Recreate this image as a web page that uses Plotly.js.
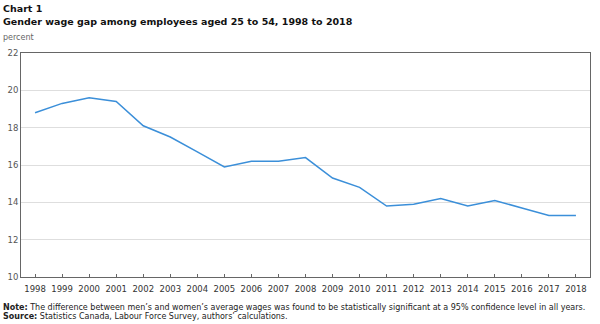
<!DOCTYPE html>
<html><head><meta charset="utf-8">
<script src="https://cdn.plot.ly/plotly-3.0.1.min.js"></script>
<style>html,body{margin:0;padding:0;background:#fff}#c{width:600px;height:324px}</style>
</head><body><div id="c"></div>
<script>
var years = ['1998','1999','2000','2001','2002','2003','2004','2005','2006','2007','2008','2009','2010','2011','2012','2013','2014','2015','2016','2017','2018'];
var gap = [18.8,19.3,19.6,19.4,18.1,17.5,16.7,15.9,16.2,16.2,16.4,15.3,14.8,13.8,13.9,14.2,13.8,14.1,13.7,13.3,13.3];
var yTicks = [10,12,14,16,18,20,22];

var F = 'DejaVu Sans, Verdana, sans-serif';
var trace = {x: years, y: gap, type: 'scatter', mode: 'lines',
  line: {color: '#3b8fd9', width: 1.5}, hoverinfo: 'skip'};
var layout = {
  width: 600, height: 324,
  margin: {l: 21, r: 10, t: 53, b: 47},
  paper_bgcolor: '#fff', plot_bgcolor: '#fff',
  showlegend: false,
  font: {family: F, size: 9, color: '#444'},
  xaxis: {type: 'category', range: [-0.52, 20.52], showgrid: false,
    showline: true, linecolor: '#666', linewidth: 1, mirror: true,
    ticks: 'inside', ticklen: 3, tickcolor: '#666', ticklabelstandoff: 4,
    tickfont: {family: F, size: 8.5, color: '#333'}, zeroline: false},
  yaxis: {range: [10, 22], tickvals: yTicks, showgrid: true, gridcolor: '#dedede',
    showline: true, linecolor: '#666', linewidth: 1, mirror: true, ticks: '',
    tickfont: {family: F, size: 8.5, color: '#555'}, zeroline: false},
  annotations: [
    {xref: 'paper', yref: 'paper', x: -0.035, y: 1.2, xanchor: 'left', yanchor: 'middle', showarrow: false,
     text: '<b>Chart 1</b>', font: {family: F, size: 9.5, color: '#111'}},
    {xref: 'paper', yref: 'paper', x: -0.035, y: 1.14, xanchor: 'left', yanchor: 'middle', showarrow: false,
     text: '<b>Gender wage gap among employees aged 25 to 54, 1998 to 2018</b>', font: {family: F, size: 9.5, color: '#111'}},
    {xref: 'paper', yref: 'paper', x: -0.035, y: 1.07, xanchor: 'left', yanchor: 'middle', showarrow: false,
     text: 'percent', font: {family: F, size: 8, color: '#666'}},
    {xref: 'paper', yref: 'paper', x: -0.035, y: -0.135, xanchor: 'left', yanchor: 'middle', showarrow: false,
     text: '<b>Note:</b> The difference between men\u2019s and women\u2019s average wages was found to be statistically significant at a 95% confidence level in all years.',
     font: {family: F, size: 8, color: '#222'}},
    {xref: 'paper', yref: 'paper', x: -0.035, y: -0.175, xanchor: 'left', yanchor: 'middle', showarrow: false,
     text: '<b>Source:</b> Statistics Canada, Labour Force Survey, authors\u2019 calculations.',
     font: {family: F, size: 8, color: '#222'}}
  ]
};
Plotly.newPlot('c', [trace], layout, {displayModeBar: false, staticPlot: true});
</script></body></html>
